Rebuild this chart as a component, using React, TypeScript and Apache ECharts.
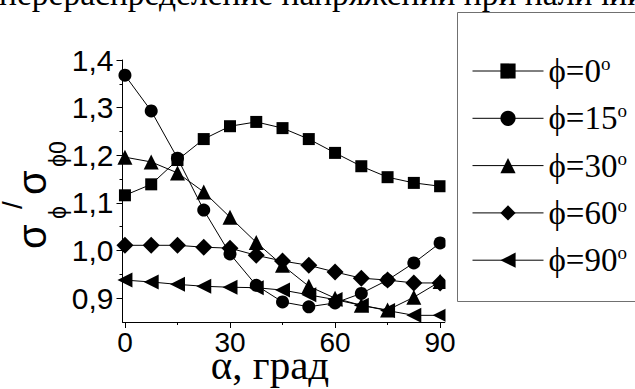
import React, { useEffect, useRef } from 'react';
import * as echarts from 'echarts';

const alpha = [0, 7.5, 15, 22.5, 30, 37.5, 45, 52.5, 60, 67.5, 75, 82.5, 90];
const phi0 = [1.116, 1.139, 1.19, 1.234, 1.261, 1.27, 1.257, 1.234, 1.205, 1.177, 1.154, 1.142, 1.135];
const phi15 = [1.368, 1.293, 1.194, 1.085, 0.993, 0.927, 0.892, 0.882, 0.89, 0.91, 0.938, 0.974, 1.016];
const phi30 = [1.196, 1.186, 1.163, 1.123, 1.07, 1.017, 0.969, 0.925, 0.9, 0.885, 0.875, 0.902, 0.935];
const phi60 = [1.011, 1.011, 1.011, 1.007, 1.005, 0.99, 0.978, 0.969, 0.955, 0.942, 0.938, 0.932, 0.932];
const phi90 = [0.938, 0.934, 0.929, 0.925, 0.923, 0.922, 0.917, 0.907, 0.897, 0.885, 0.874, 0.864, 0.864];

const seriesNames = ['ϕ=0', 'ϕ=15', 'ϕ=30', 'ϕ=60', 'ϕ=90'];
const xTicks = [0, 30, 60, 90];
const xMinorTicks = [15, 45, 75];
const yTicks = [0.9, 1.0, 1.1, 1.2, 1.3, 1.4];
const yMinorTicks = [0.95, 1.05, 1.15, 1.25, 1.35];

const titleText = 'перераспределение напряжений при наличии';
const xName = 'α, град';

const SANS = 'Liberation Sans';
const SERIF = "'Liberation Serif', 'DejaVu Serif'";

export default function App() {
  const ref = useRef<HTMLDivElement>(null);
  useEffect(() => {
    document.body.style.margin = '0';
    const chart = echarts.init(ref.current!, null, { renderer: 'svg' });
    const mk = (name: string, vals: number[], symbol: string, size: number, rotate = 0) => ({
      name,
      type: 'line',
      data: alpha.map((a, i) => [a, vals[i]]),
      symbol,
      symbolSize: size,
      symbolRotate: rotate,
      showAllSymbol: true,
      lineStyle: { color: '#000', width: 1 },
      itemStyle: { color: '#000' },
      emphasis: { disabled: true },
      clip: true,
    });
    const xMin = -0.7;
    const xMax = 91.4;
    const rot = (text: string, x: number, y: number, size: number) => ({
      type: 'text', z: 101, x, y, rotation: Math.PI / 2,
      style: { text, fontFamily: SANS, fontSize: size, fill: '#000', textAlign: 'left', textVerticalAlign: 'middle' },
    });
    chart.setOption({
      animation: false,
      grid: { left: 122.5, right: 190, top: 60, bottom: 67, containLabel: false, outerBoundsMode: 'none' },
      xAxis: [
        {
          type: 'value', min: xMin, max: xMax,
          axisLine: { show: true, onZero: false, lineStyle: { color: '#000', width: 1 } },
          axisTick: { show: true, customValues: xTicks, length: 6, lineStyle: { color: '#000' } },
          axisLabel: { customValues: xTicks, fontFamily: SANS, fontSize: 28, color: '#000', margin: 6 },
          splitLine: { show: false },
        },
        {
          type: 'value', min: xMin, max: xMax, position: 'bottom',
          axisLine: { show: false, onZero: false },
          axisTick: { show: true, customValues: xMinorTicks, length: 3, lineStyle: { color: '#000' } },
          axisLabel: { show: false },
          splitLine: { show: false },
        },
      ],
      yAxis: [
        {
          type: 'value', min: 0.85, max: 1.4,
          axisLine: { show: true, onZero: false, lineStyle: { color: '#000', width: 1 } },
          axisTick: { show: true, customValues: yTicks, length: 6, lineStyle: { color: '#000' } },
          axisLabel: {
            customValues: yTicks, fontFamily: SANS, fontSize: 30, color: '#000', margin: 9,
            formatter: (v: number) => v.toFixed(1).replace('.', ','),
          },
          splitLine: { show: false },
        },
        {
          type: 'value', min: 0.85, max: 1.4, position: 'left',
          axisLine: { show: false, onZero: false },
          axisTick: { show: true, customValues: yMinorTicks, length: 3, lineStyle: { color: '#000' } },
          axisLabel: { show: false },
          splitLine: { show: false },
        },
      ],
      legend: {
        orient: 'vertical',
        left: 472,
        top: 54,
        itemWidth: 71,
        itemHeight: 19,
        itemGap: 13.8,
        padding: 0,
        data: seriesNames,
        lineStyle: { width: 1, color: '#000' },
        formatter: (name: string) => `{t|${name}}{o|o}`,
        textStyle: {
          color: '#000',
          rich: {
            t: { fontFamily: SERIF, fontSize: 33, lineHeight: 34, color: '#000' },
            o: { fontFamily: SERIF, fontSize: 19, lineHeight: 19, verticalAlign: 'top', color: '#000' },
          },
        },
        selectedMode: false,
      },
      series: [
        mk(seriesNames[0], phi0, 'rect', 12),
        mk(seriesNames[1], phi15, 'circle', 13),
        mk(seriesNames[2], phi30, 'triangle', 15),
        mk(seriesNames[3], phi60, 'diamond', 17),
        mk(seriesNames[4], phi90, 'triangle', 15, 90),
      ],
      graphic: [
        { type: 'rect', z: 100, shape: { x: 445.5, y: 40, width: 11, height: 290 }, style: { fill: '#fff' } },
        { type: 'rect', z: 101, shape: { x: 457.5, y: 12.5, width: 300, height: 289 }, style: { fill: 'none', stroke: '#707070', lineWidth: 1 } },
        { type: 'text', z: 101, x: -1, y: -7, style: { text: titleText, fontFamily: SERIF, fontSize: 33.5, fill: '#000', textAlign: 'left', textVerticalAlign: 'middle' } },
        { type: 'text', z: 101, x: 270, y: 365, style: { text: xName, fontFamily: SERIF, fontSize: 41, fill: '#000', textAlign: 'center', textVerticalAlign: 'middle' } },
        rot('σ', 32, 249, 40),
        rot('ϕ', 58, 219, 23),
        rot('/', 12, 209, 28),
        rot('σ', 32, 195, 40),
        rot('ϕ0', 58, 167, 23),
      ],
    });
    return () => chart.dispose();
  }, []);
  return <div ref={ref} style={{ width: 635, height: 389 }} />;
}
